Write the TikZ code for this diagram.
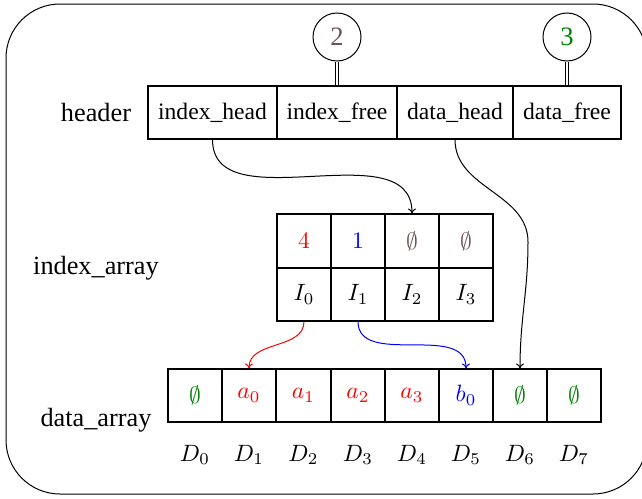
\RequirePackage{fix-cm}
\documentclass[tikz,border=0pt]{standalone}
\usepackage{graphicx}
\usepackage{fontspec}
\setmainfont{Liberation Serif}
\usetikzlibrary{arrows.meta}
\definecolor{mygray}{RGB}{105,85,85}
\definecolor{mygreen}{RGB}{0,128,0}
\newcommand{\cellmath}[1]{\scalebox{2.36}{\fontsize{10}{12}\selectfont$#1$}}
\tikzset{
  cell/.style={draw, line width=1.1pt, rectangle, inner sep=0pt, minimum height=53pt, font=\fontsize{23.6}{28}\selectfont},
  sq/.style={cell, minimum width=54pt},
  lbl/.style={inner sep=0pt, font=\fontsize{26.3}{30}\selectfont},
  dlbl/.style={inner sep=0pt, font=\fontsize{23.6}{28}\selectfont},
  cnt/.style={draw, circle, line width=1pt, minimum size=48pt, inner sep=0pt, font=\fontsize{26.6}{30}\selectfont},
  dbl/.style={double, line width=1pt, double distance=2pt},
  arr/.style={line width=1pt, -{To[length=5pt,width=8pt]}},
}
\begin{document}
\begin{tikzpicture}[x=1pt,y=-1pt]
\useasboundingbox (0,0) rectangle (642,498);
\draw[line width=1pt, rounded corners=54pt] (6,4) rectangle (647,494);

% header
\node[lbl] (hl) at (96,113) {header};
\node[cell, minimum width=129pt] (hh) at (212.5,112.5) {index\_head};
\node[cell, minimum width=120pt] (hf) at (337,112.5) {index\_free};
\node[cell, minimum width=116pt] (dh) at (455,112.5) {data\_head};
\node[cell, minimum width=108pt] (df) at (567,112.5) {data\_free};
\node[cnt, text=mygray] (c2) at (337,37) {2};
\node[cnt, text=mygreen] (c3) at (567,37) {3};
\draw[dbl] (c2.south) -- (hf.north);
\draw[dbl] (c3.south) -- (df.north);

% index array
\node[lbl] (il) at (96,268) {index\_array};
\node[sq, minimum height=54pt, text=red] (ia0) at (304,241) {\cellmath{4}};
\node[sq, minimum height=54pt, text=blue] (ia1) at (358,241) {\cellmath{1}};
\node[sq, minimum height=54pt, text=mygray] (ia2) at (412,241) {\cellmath{\emptyset}};
\node[sq, minimum height=54pt, text=mygray] (ia3) at (466,241) {\cellmath{\emptyset}};
\node[sq] (ib0) at (304,294.5) {\cellmath{I_0}};
\node[sq] (ib1) at (358,294.5) {\cellmath{I_1}};
\node[sq] (ib2) at (412,294.5) {\cellmath{I_2}};
\node[sq] (ib3) at (466,294.5) {\cellmath{I_3}};

% data array
\node[lbl] (dl) at (96,420) {data\_array};
\node[sq, text=mygreen] (d0) at (195,395.5) {\cellmath{\emptyset}};
\node[sq, text=red] (d1) at (249,395.5) {\cellmath{a_0}};
\node[sq, text=red] (d2) at (303.5,395.5) {\cellmath{a_1}};
\node[sq, text=red] (d3) at (358,395.5) {\cellmath{a_2}};
\node[sq, text=red] (d4) at (412,395.5) {\cellmath{a_3}};
\node[sq, text=blue] (d5) at (466,395.5) {\cellmath{b_0}};
\node[sq, text=mygreen] (d6) at (520,395.5) {\cellmath{\emptyset}};
\node[sq, text=mygreen] (d7) at (574,395.5) {\cellmath{\emptyset}};
\foreach \i/\x in {0/195,1/249,2/303.5,3/358,4/412,5/466,6/520,7/574}
  \node[dlbl] (D\i) at (\x,455) {\cellmath{D_{\i}}};

% arrows
\coordinate (bend) at (528,242);
\draw[arr] (hh.south) to[out=-90,in=90] (ia2.north);
\draw[arr] (dh.south) to[out=-90,in=90] (bend) to[out=-90,in=90] (d6.north);
\draw[arr, red] (ib0.south) to[out=-90,in=90] (d1.north);
\draw[arr, blue] (ib1.south) to[out=-90,in=90] (d5.north);
\end{tikzpicture}
\end{document}
